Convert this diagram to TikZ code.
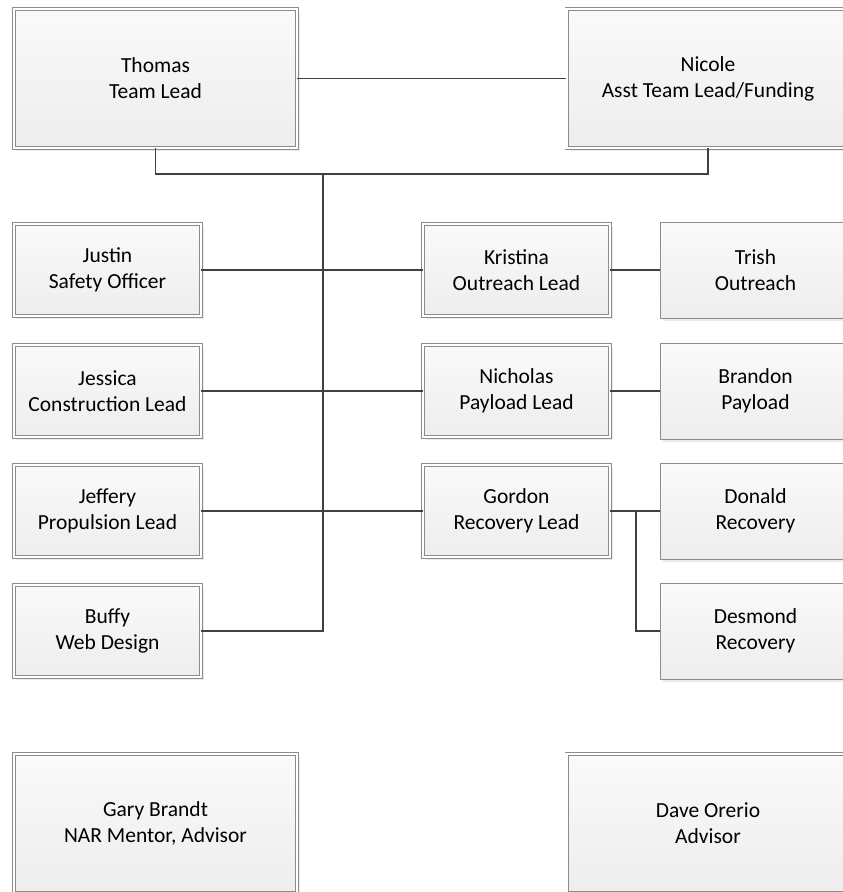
\documentclass[tikz,border=0pt]{standalone}
\usepackage{fontspec}
\setmainfont{Carlito}
\usepackage{tikz}
\usetikzlibrary{shadows}
\tikzset{lead/.style = {draw=black!45, line width=0.8pt, double=white, double distance=2.4pt,
                        top color=black!2, bottom color=black!7, align=center,
                        drop shadow={shadow xshift=3pt, shadow yshift=-3pt, fill=black!8, opacity=1},
                        font=\fontsize{21.5}{26}\selectfont}}
\tikzset{member/.style = {draw=black!45, line width=0.8pt,
                          top color=black!2, bottom color=black!7, align=center,
                          drop shadow={shadow xshift=3pt, shadow yshift=-3pt, fill=black!8, opacity=1},
                          font=\fontsize{21.5}{26}\selectfont,
                          minimum width=191, minimum height=96}}
\tikzset{big/.style = {lead, minimum width=283, minimum height=139}}
\tikzset{small/.style = {lead, minimum width=187, minimum height=92}}
\tikzset{link/.style = {draw=black!75, line width=1.8pt}}

\begin{document}
\begin{tikzpicture}[x=1pt, y=-1pt]
    \useasboundingbox (0, 0) rectangle (843, 892);
    \clip (0, 0) rectangle (843, 892);

    \node [big] (thomas) at (155.5, 78.5) {Thomas\\Team Lead};
    \node [big] (nicole) at (708, 78.5) {Nicole\\Asst Team Lead/Funding};

    \node [small] (justin)   at (107.5, 270) {Justin\\Safety Officer};
    \node [small] (jessica)  at (107.5, 391) {Jessica\\Construction Lead};
    \node [small] (jeffery)  at (107.5, 511) {Jeffery\\Propulsion Lead};
    \node [small] (buffy)    at (107.5, 631) {Buffy\\Web Design};

    \node [small] (kristina) at (516.5, 270) {Kristina\\Outreach Lead};
    \node [small] (nicholas) at (516.5, 391) {Nicholas\\Payload Lead};
    \node [small] (gordon)   at (516.5, 511) {Gordon\\Recovery Lead};

    \node [member] (trish)   at (755.5, 270) {Trish\\Outreach};
    \node [member] (brandon) at (755.5, 391) {Brandon\\Payload};
    \node [member] (donald)  at (755.5, 511) {Donald\\Recovery};
    \node [member] (desmond) at (755.5, 631) {Desmond\\Recovery};

    \node [big] (gary) at (155.5, 823.5) {Gary Brandt\\NAR Mentor, Advisor};
    \node [big] (dave) at (708, 823.5) {Dave Orerio\\Advisor};

    \coordinate (top) at (323, 174);
    \coordinate (split) at (636, 511);

    \draw [link] (thomas.east) -- (nicole.west);
    \draw [link] (thomas.south) |- (top) -| (nicole.south);
    \draw [link] (top) |- (buffy.east);

    \draw [link] (justin.east) -- (kristina.west);
    \draw [link] (jessica.east) -- (nicholas.west);
    \draw [link] (jeffery.east) -- (gordon.west);

    \draw [link] (kristina.east) -- (trish.west);
    \draw [link] (nicholas.east) -- (brandon.west);
    \draw [link] (gordon.east) -- (donald.west);
    \draw [link] (split) |- (desmond.west);
  \end{tikzpicture}
\end{document}
